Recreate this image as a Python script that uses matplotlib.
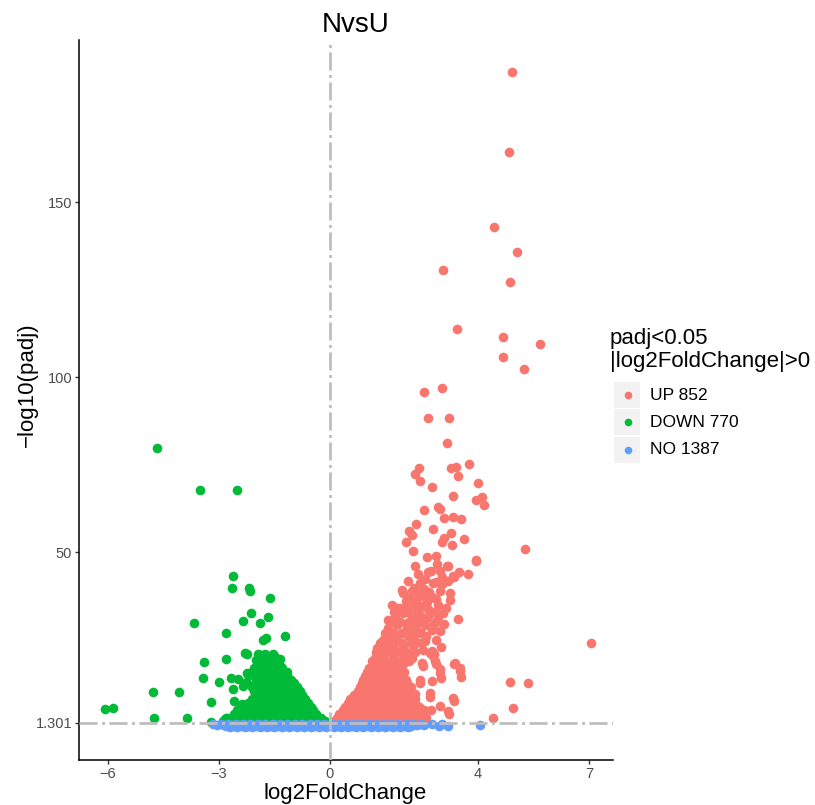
import matplotlib
matplotlib.use("Agg")
import matplotlib.pyplot as plt
from matplotlib.patches import Rectangle
from matplotlib.lines import Line2D

plt.rcParams['font.family'] = ['Liberation Sans', 'DejaVu Sans']

# valores (log2FoldChange, -log10(padj))
up_sparse = [
    (4.91, 187.2), (4.84, 164.3), (4.44, 142.9), (5.05, 135.9), (3.05, 130.6),
    (4.87, 127.1), (3.44, 113.7), (4.67, 111.5), (5.68, 109.4), (4.69, 105.7),
    (5.24, 102.3), (3.04, 97.0), (2.55, 95.7), (2.64, 88.5), (3.23, 88.3),
    (3.16, 81.1), (2.40, 74.1), (2.30, 72.5), (2.44, 70.4), (3.26, 74.1),
    (3.40, 74.4), (3.45, 71.9), (3.76, 75.2), (4.01, 69.7), (2.75, 68.6),
    (3.32, 66.0), (3.95, 65.1), (4.10, 65.8), (4.17, 63.4), (2.53, 62.2),
    (2.93, 63.0), (2.98, 62.3), (3.09, 59.9), (3.32, 60.1), (3.55, 59.4),
    (2.33, 58.2), (2.79, 56.8), (2.14, 56.0), (2.21, 55.1), (2.05, 53.0),
    (3.08, 54.2), (3.03, 53.0), (3.27, 55.5), (3.29, 52.2), (3.62, 53.7),
    (5.28, 50.9), (7.05, 24.2), (4.86, 12.9), (5.36, 12.6), (4.94, 5.7),
    (4.41, 2.6), (2.24, 50.4), (2.62, 48.8), (2.86, 49.1), (3.95, 47.8),
    (2.29, 46.1), (2.74, 44.7), (2.98, 44.6), (3.04, 43.1), (3.19, 46.0),
    (3.49, 44.4), (3.36, 42.9), (3.74, 43.8), (3.17, 46.2), (3.96, 47.6),
]
up_mid = [
    (2.39, 43.9), (2.57, 42.4), (2.79, 41.3), (3.02, 41.0), (3.20, 41.8),
    (3.33, 43.2), (2.12, 41.8), (1.94, 39.4), (1.98, 38.4), (2.21, 38.9),
    (2.43, 41.3), (2.52, 37.5), (3.24, 38.4), (3.24, 36.5), (2.93, 35.1),
    (3.15, 34.1), (1.67, 35.1), (1.80, 34.1), (2.03, 33.7), (2.25, 35.1),
    (2.48, 34.6), (2.66, 33.7), (1.58, 30.8), (1.76, 31.7), (1.98, 32.7),
    (2.21, 31.2), (2.43, 32.2), (2.66, 31.7), (2.93, 31.7), (1.58, 28.4),
    (1.80, 29.3), (2.07, 29.8), (2.34, 28.9), (2.57, 29.3), (2.75, 27.9),
    (3.47, 31.0), (1.44, 25.0), (1.62, 26.0), (1.85, 26.5), (2.12, 26.0),
    (2.34, 26.9), (2.61, 26.0), (2.88, 25.0), (1.26, 22.7), (1.49, 23.2),
    (1.71, 23.6), (1.98, 23.2), (2.25, 23.2), (2.52, 22.2), (2.75, 21.8),
    (1.22, 19.8), (1.44, 20.3), (1.71, 20.8), (1.98, 20.3), (2.21, 19.8),
    (2.79, 20.3), (1.26, 17.5), (1.62, 18.0), (1.98, 18.0), (2.52, 17.7),
    (3.38, 18.5), (3.51, 17.0), (3.34, 7.5), (3.21, 3.8), (3.36, 18.2),
    (3.52, 16.0), (3.53, 14.5), (3.00, 14.2), (2.97, 15.5), (2.75, 13.3),
    (2.43, 12.7), (2.86, 18.1), (2.71, 8.7), (2.30, 9.5), (2.73, 5.0),
    (2.41, 6.0), (2.81, 20.9), (2.78, 29.4), (2.75, 37.4), (2.86, 41.6),
    (2.88, 30.2), (2.57, 24.6), (2.97, 16.6), (2.84, 19.0), (2.48, 18.5),
    (2.70, 21.3), (2.43, 13.6), (2.70, 9.8), (3.33, 8.4), (3.20, 4.6),
    (2.97, 6.1), (2.68, 38.8), (2.39, 38.3), (2.16, 36.9), (1.89, 34.0),
    (2.07, 28.4), (1.72, 32.9), (2.12, 33.1), (2.36, 33.2), (2.84, 33.0),
    (3.05, 32.6), (2.05, 36.0), (2.33, 36.2), (2.62, 35.8), (2.86, 36.6),
    (2.27, 39.8), (2.55, 39.6), (2.97, 38.9), (2.65, 44.3), (2.90, 46.8),
    (2.48, 30.4), (2.97, 27.5), (3.08, 29.6), (2.30, 24.8), (2.99, 23.0),
]
up_core_y = [1.8, 2.8, 3.8, 4.9, 6.0, 7.1, 8.2, 9.3, 10.4, 11.5, 12.6, 13.7,
             14.8, 15.9, 17.0, 19.0, 21.5, 24.0, 27.0, 30.0]
up_core_x = [
    [0.12, 0.3, 0.5, 0.7, 0.9, 1.1, 1.3, 1.5, 1.7, 1.9, 2.1, 2.3, 2.5],
    [0.2, 0.4, 0.6, 0.8, 1.0, 1.2, 1.4, 1.6, 1.8, 2.0, 2.2, 2.4, 2.6],
    [0.25, 0.45, 0.65, 0.85, 1.05, 1.25, 1.45, 1.65, 1.85, 2.05, 2.25, 2.45],
    [0.35, 0.55, 0.75, 0.95, 1.15, 1.35, 1.55, 1.75, 1.95, 2.15, 2.35, 2.55],
    [0.4, 0.6, 0.8, 1.0, 1.2, 1.4, 1.6, 1.8, 2.0, 2.2, 2.4],
    [0.5, 0.7, 0.9, 1.1, 1.3, 1.5, 1.7, 1.9, 2.1, 2.3],
    [0.55, 0.75, 0.95, 1.15, 1.35, 1.55, 1.75, 1.95, 2.15, 2.3],
    [0.65, 0.85, 1.05, 1.25, 1.45, 1.65, 1.85, 2.05, 2.25],
    [0.75, 0.95, 1.15, 1.35, 1.55, 1.75, 1.95, 2.15],
    [0.8, 1.0, 1.2, 1.4, 1.6, 1.8, 2.0, 2.2],
    [0.88, 1.08, 1.28, 1.48, 1.68, 1.88, 2.08],
    [0.9, 1.1, 1.3, 1.5, 1.7, 1.9, 2.05],
    [0.95, 1.15, 1.35, 1.55, 1.75, 1.95],
    [1.0, 1.2, 1.4, 1.6, 1.8, 2.0],
    [1.05, 1.25, 1.45, 1.65, 1.85],
    [1.15, 1.35, 1.55, 1.75, 1.95, 2.15],
    [1.25, 1.45, 1.65, 1.85, 2.05, 2.3],
    [1.35, 1.55, 1.75, 1.95, 2.2, 2.45],
    [1.5, 1.7, 1.95, 2.2, 2.45],
    [1.65, 1.9, 2.15, 2.4],
]

down_sparse = [
    (-4.68, 79.9), (-3.50, 67.9), (-2.51, 67.8), (-2.63, 43.4), (-2.64, 39.8),
    (-2.18, 39.7), (-2.16, 39.1), (-1.61, 37.1), (-2.12, 32.6), (-2.35, 30.5),
    (-1.90, 29.9), (-1.68, 31.5), (-3.68, 29.8), (-2.82, 27.1), (-1.22, 26.2),
    (-1.81, 25.1), (-1.74, 25.7), (-2.24, 21.1), (-2.81, 19.6), (-3.39, 18.8),
    (-3.44, 14.1), (-3.00, 13.0), (-4.77, 10.1), (-4.09, 10.2), (-6.09, 5.4),
    (-5.87, 5.7), (-4.76, 2.6), (-3.87, 2.6), (-3.21, 7.3), (-3.21, 1.7),
    (-2.59, 7.5), (-2.83, 2.5), (-2.67, 14.2), (-2.23, 15.5), (-2.48, 13.8),
    (-2.30, 12.6), (-2.03, 17.1), (-2.38, 6.7), (-2.18, 6.5), (-2.23, 4.5),
    (-2.45, 4.5), (-2.03, 14.5), (-1.86, 17.4), (-1.71, 19.3), (-1.49, 20.2),
    (-1.35, 19.7), (-1.44, 17.4), (-1.26, 16.0), (-1.17, 14.9), (-0.99, 12.2),
    (-0.90, 11.7), (-2.34, 12.0), (-2.25, 12.8), (-2.62, 10.9), (-2.20, 15.1),
    (-2.30, 21.2), (-1.85, 20.7), (-1.31, 17.4), (-2.79, 2.7), (-2.43, 5.6),
    (-2.11, 4.2),
]
down_core_y = [1.8, 2.8, 3.8, 4.9, 6.0, 7.1, 8.2, 9.3, 10.4, 11.5, 12.6, 13.7,
               14.8, 15.9, 17.0, 18.1, 19.2, 21.0]
down_core_x = [
    [-2.9, -2.7, -2.5, -2.3, -2.1, -1.9, -1.7, -1.5, -1.3, -1.1, -0.9, -0.7, -0.5, -0.3, -0.14],
    [-2.8, -2.6, -2.4, -2.2, -2.0, -1.8, -1.6, -1.4, -1.2, -1.0, -0.8, -0.6, -0.4, -0.25],
    [-2.6, -2.4, -2.2, -2.0, -1.8, -1.6, -1.4, -1.2, -1.0, -0.8, -0.6, -0.38],
    [-2.5, -2.3, -2.1, -1.9, -1.7, -1.5, -1.3, -1.1, -0.9, -0.7, -0.45],
    [-2.3, -2.1, -1.9, -1.7, -1.5, -1.3, -1.1, -0.9, -0.7, -0.52],
    [-2.2, -2.0, -1.8, -1.6, -1.4, -1.2, -1.0, -0.8, -0.6],
    [-2.1, -1.9, -1.7, -1.5, -1.3, -1.1, -0.9, -0.68],
    [-2.0, -1.8, -1.6, -1.4, -1.2, -1.0, -0.75],
    [-2.05, -1.85, -1.65, -1.45, -1.25, -1.05, -0.82],
    [-2.1, -1.9, -1.7, -1.5, -1.3, -1.1, -0.9],
    [-2.0, -1.8, -1.6, -1.4, -1.2, -0.98],
    [-1.9, -1.7, -1.5, -1.3, -1.05],
    [-2.0, -1.8, -1.6, -1.4, -1.2],
    [-2.1, -1.9, -1.7, -1.5, -1.3, -1.15],
    [-2.05, -1.85, -1.65, -1.45, -1.3],
    [-1.95, -1.75, -1.55, -1.38],
    [-2.0, -1.8, -1.6, -1.45],
    [-1.95, -1.75, -1.55],
]

no_row_y = [1.05, 0.6, 0.35, 0.15]
no_row_x = [
    [-3.15, -2.95, -2.75, -2.55, -2.35, -2.15, -1.95, -1.75, -1.55, -1.35, -1.15,
     -0.95, -0.75, -0.55, -0.35, -0.15, 0.05, 0.25, 0.45, 0.65, 0.85, 1.05, 1.25,
     1.45, 1.65, 1.85, 2.05, 2.25, 2.45],
    [-3.05, -2.85, -2.65, -2.45, -2.25, -2.05, -1.85, -1.65, -1.45, -1.25, -1.05,
     -0.85, -0.65, -0.45, -0.25, -0.05, 0.15, 0.35, 0.55, 0.75, 0.95, 1.15, 1.35,
     1.55, 1.75, 1.95, 2.15, 2.35, 2.55],
    [-2.8, -2.6, -2.4, -2.2, -2.0, -1.8, -1.6, -1.4, -1.2, -1.0, -0.8, -0.6, -0.4,
     -0.2, 0.0, 0.2, 0.4, 0.6, 0.8, 1.0, 1.2, 1.4, 1.6, 1.8, 2.0, 2.2],
    [-2.7, -2.5, -2.3, -2.1, -1.9, -1.7, -1.5, -1.3, -1.1, -0.9, -0.7, -0.5, -0.3,
     -0.1, 0.1, 0.3, 0.5, 0.7, 0.9, 1.1, 1.3, 1.5, 1.7, 1.9, 2.1],
]
no_extra = [(2.75, 0.9), (2.95, 0.4), (3.03, 1.1), (3.19, 0.5), (4.05, 0.6)]

legend_labels = ['UP 852', 'DOWN 770', 'NO 1387']
col_up, col_down, col_no = '#F8766D', '#00BA38', '#619CFF'
x_ticks = [-6, -3, 0, 4, 7]
x_ticklabels = ['\u22126', '\u22123', '0', '4', '7']
y_ticks = [1.301, 50, 100, 150]
y_ticklabels = ['1.301', '50', '100', '150']


def junta(pontos, linhas_y=None, linhas_x=None):
    xs = [p[0] for p in pontos]
    ys = [p[1] for p in pontos]
    if linhas_y is not None:
        for yy, row in zip(linhas_y, linhas_x):
            xs += row
            ys += [yy] * len(row)
    return xs, ys


fig = plt.figure(figsize=(8.15, 8.05), dpi=100)
ax = fig.add_axes([79 / 815, 1 - 760 / 805, 534 / 815, 720 / 805])

ux, uy = junta(up_sparse + up_mid, up_core_y, up_core_x)
dx, dy = junta(down_sparse, down_core_y, down_core_x)
nx, ny = junta(no_extra, no_row_y, no_row_x)

ax.scatter(ux, uy, s=48, c=col_up, linewidths=0, zorder=2)
ax.scatter(dx, dy, s=48, c=col_down, linewidths=0, zorder=2)
ax.scatter(nx, ny, s=48, c=col_no, linewidths=0, zorder=3)

# linhas de corte
dash = (0, (6.5, 1.6, 1.1, 1.6))
ax.axhline(1.301, color='#BEBEBE', lw=2, linestyle=dash, zorder=4)
ax.axvline(0, color='#BEBEBE', lw=2, linestyle=dash, zorder=4)

ax.set_xlim(-6.78, 7.65)
ax.set_ylim(-9.27, 196.3)
ax.set_xticks(x_ticks)
ax.set_xticklabels(x_ticklabels)
ax.set_yticks(y_ticks)
ax.set_yticklabels(y_ticklabels)
ax.tick_params(labelsize=10.5, labelcolor='#4D4D4D', color='#333333', length=3, width=1, pad=2)
for s in ['top', 'right']:
    ax.spines[s].set_visible(False)
for s in ['left', 'bottom']:
    ax.spines[s].set_linewidth(1.1)

fig.text(356 / 815, 1 - 31.7 / 805, 'NvsU', fontsize=20, ha='center', va='baseline')
fig.text(345 / 815, 1 - 799 / 805, 'log2FoldChange', fontsize=16, ha='center', va='baseline')
fig.text(27 / 815, 1 - 385 / 805, '\u2212log10(padj)', fontsize=16, ha='center', va='center', rotation=90)

# legenda
fig.text(610 / 815, 1 - 344 / 805, 'padj<0.05', fontsize=16, va='baseline')
fig.text(610 / 815, 1 - 367 / 805, '|log2FoldChange|>0', fontsize=16, va='baseline')
key_tops = [382, 409, 437]
for top, lab, col in zip(key_tops, legend_labels, [col_up, col_down, col_no]):
    fig.add_artist(Rectangle((614 / 815, 1 - (top + 26) / 805), 26 / 815, 26 / 805,
                             transform=fig.transFigure, facecolor='#F2F2F2', edgecolor='none'))
    fig.add_artist(Line2D([628 / 815], [1 - (top + 13) / 805], transform=fig.transFigure,
                          marker='o', markersize=5.5, color=col, markeredgewidth=0))
    fig.text(650 / 815, 1 - (top + 13) / 805, lab, fontsize=12.5, va='center')

fig.savefig('out.png', dpi=100)
